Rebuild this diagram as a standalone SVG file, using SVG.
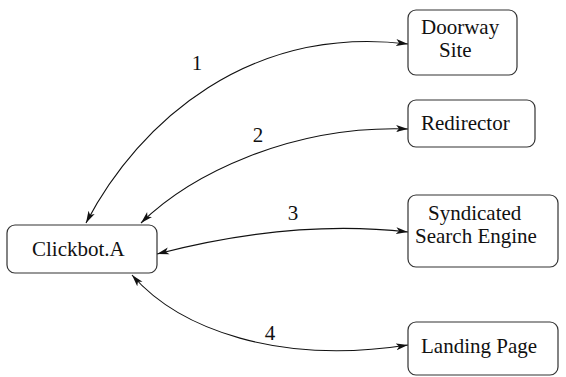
<svg xmlns="http://www.w3.org/2000/svg" width="566" height="377" viewBox="0 0 566 377">
<style>
.box{fill:#fff;stroke:#333;stroke-width:1.2}
.e{fill:none;stroke:#111;stroke-width:1.1}
.t{font-family:'Liberation Serif','Times New Roman',serif;font-size:21px;fill:#111}
.n{text-anchor:middle}
</style>
<defs>
<marker id="ah" viewBox="0 0 12 8" refX="12" refY="4" markerWidth="12" markerHeight="8" markerUnits="userSpaceOnUse" orient="auto-start-reverse">
<path d="M0,0.5 L12,4 L0,7.5 L3,4 Z" fill="#111"/>
</marker>
</defs>
<rect width="566" height="377" fill="#fff"/>
<g id="connectors">
<path class="e" d="M86,223 C140,120 250,25 408,44" marker-start="url(#ah)" marker-end="url(#ah)"/>
<path class="e" d="M141,223 C190,175 290,125 408,129" marker-start="url(#ah)" marker-end="url(#ah)"/>
<path class="e" d="M157,254 C230,235 320,222 408,232" marker-start="url(#ah)" marker-end="url(#ah)"/>
<path class="e" d="M132,275 C180,330 280,365 408,345" marker-start="url(#ah)" marker-end="url(#ah)"/>
<text class="t n" x="197" y="70" font-family="Liberation Serif">1</text>
<text class="t n" x="258" y="142" font-family="Liberation Serif">2</text>
<text class="t n" x="293" y="220" font-family="Liberation Serif">3</text>
<text class="t n" x="270" y="340" font-family="Liberation Serif">4</text>
</g>
<g id="clickbot">
<rect class="box" x="7" y="225" width="150" height="48" rx="8"/>
<text class="t" x="32" y="256" font-family="Liberation Serif">Clickbot.A</text>
</g>
<g id="doorway">
<rect class="box" x="408" y="10" width="109" height="65" rx="8"/>
<text class="t" x="421" y="34" font-family="Liberation Serif">Doorway</text>
<text class="t" x="439" y="57" font-family="Liberation Serif">Site</text>
</g>
<g id="redirector">
<rect class="box" x="408" y="100" width="127" height="47" rx="8"/>
<text class="t" x="421" y="130" font-family="Liberation Serif">Redirector</text>
</g>
<g id="syndicated">
<rect class="box" x="408" y="195" width="150" height="72" rx="8"/>
<text class="t" x="428" y="220" font-family="Liberation Serif">Syndicated</text>
<text class="t" x="415" y="243" font-family="Liberation Serif">Search Engine</text>
</g>
<g id="landing">
<rect class="box" x="408" y="322" width="150" height="53" rx="8"/>
<text class="t" x="421" y="353" font-family="Liberation Serif">Landing Page</text>
</g>
</svg>
